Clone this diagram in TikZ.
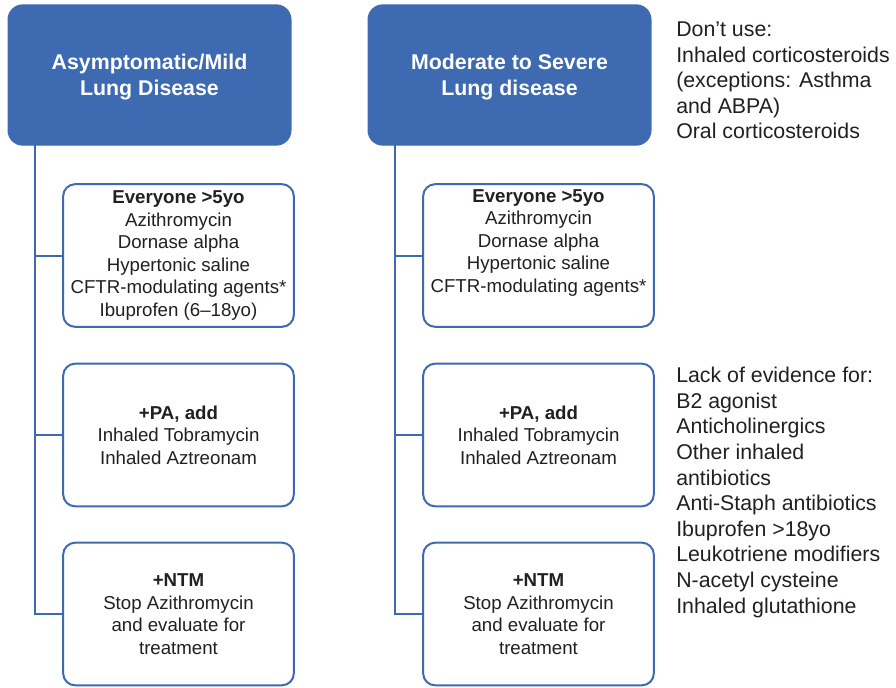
\documentclass[tikz,border=0pt]{standalone}
\usepackage{fontspec}
\setmainfont{Liberation Sans}
\usetikzlibrary{positioning}
\definecolor{cfblue}{RGB}{61,106,176}
\definecolor{cftext}{RGB}{35,31,32}
\tikzset{
  header/.style={draw=cfblue, fill=cfblue, line width=1pt, rounded corners=11pt,
    minimum width=212pt, minimum height=105pt, inner sep=0pt, text depth=0pt,
    text=white, align=center, font=\fontsize{16}{19.5}\selectfont\bfseries},
  therapy/.style={draw=cfblue, line width=1.5pt, rounded corners=9pt, fill=white,
    minimum width=173pt, minimum height=107pt, inner sep=0pt,
    text=cftext, align=center, font=\fontsize{14}{16.9}\selectfont},
  link/.style={draw=cfblue, line width=1.5pt},
  note/.style={anchor=north west, inner sep=0pt, text=cftext, align=left,
    font=\fontsize{16}{19.2}\selectfont}
}
\begin{document}
\begin{tikzpicture}[x=0.75pt, y=-0.75pt]
\useasboundingbox (0,0) rectangle (896,687);

% Headers
\node[header] (hdL) at (149.5,75) {Asymptomatic/Mild\\Lung Disease};
\node[header] (hdR) at (509.5,75) {Moderate to Severe\\Lung disease};

% Left column
\node[therapy] (evL) at (178.5,255.5) {\textbf{Everyone >5yo}\\Azithromycin\\Dornase alpha\\Hypertonic saline\\CFTR-modulating agents*\\Ibuprofen (6–18yo)};
\node[therapy] (paL) at (178.5,435) {\textbf{+PA, add}\\Inhaled Tobramycin\\Inhaled Aztreonam};
\node[therapy] (ntmL) at (178.5,614) {\textbf{+NTM}\\Stop Azithromycin\\and evaluate for\\treatment};

% Right column
\node[therapy] (evR) at (538.5,255.5) {\textbf{Everyone >5yo}\\Azithromycin\\Dornase alpha\\Hypertonic saline\\CFTR-modulating agents*\\\strut};
\node[therapy] (paR) at (538.5,435) {\textbf{+PA, add}\\Inhaled Tobramycin\\Inhaled Aztreonam};
\node[therapy] (ntmR) at (538.5,614) {\textbf{+NTM}\\Stop Azithromycin\\and evaluate for\\treatment};

% Trunks
\coordinate (trunkL) at (35,145);
\coordinate (trunkR) at (395,145);
\draw[link] (trunkL) |- (ntmL.west);
\draw[link] (trunkL |- evL.west) -- (evL.west);
\draw[link] (trunkL |- paL.west) -- (paL.west);
\draw[link] (trunkR) |- (ntmR.west);
\draw[link] (trunkR |- evR.west) -- (evR.west);
\draw[link] (trunkR |- paR.west) -- (paR.west);

% Notes
\node[note] (dont) at (676,21.5) {Don’t use:\\Inhaled corticosteroids\\(exceptions: Asthma\\and ABPA)\\Oral corticosteroids};
\node[note] (lack) at (676,367) {Lack of evidence for:\\B2 agonist\\Anticholinergics\\Other inhaled\\antibiotics\\Anti-Staph antibiotics\\Ibuprofen >18yo\\Leukotriene modifiers\\N-acetyl cysteine\\Inhaled glutathione};
\end{tikzpicture}
\end{document}
